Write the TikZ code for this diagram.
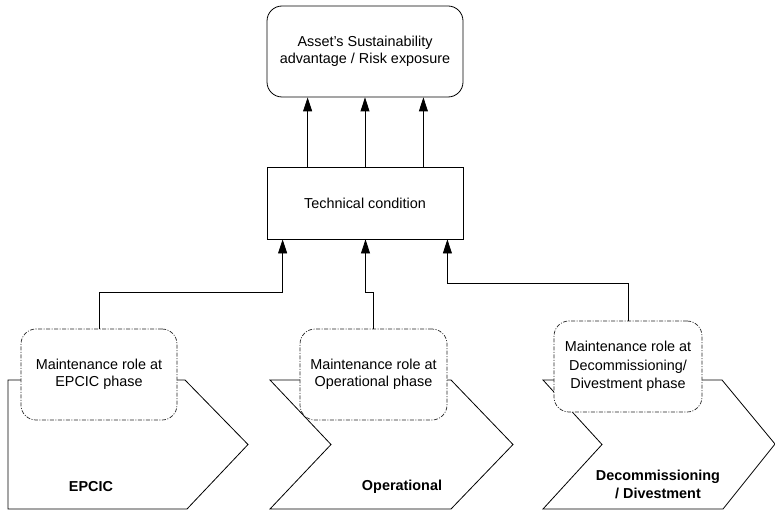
\documentclass[tikz,border=0pt]{standalone}
\usepackage{fontspec}
\setmainfont{Liberation Sans}
\usetikzlibrary{arrows.meta}
\begin{document}
\begin{tikzpicture}[x=1pt,y=-1pt,
  every node/.style={font=\fontsize{14.4}{16.6}\selectfont, align=center, inner sep=0pt},
  solidbox/.style={draw=black, line width=0.8pt, fill=white},
  dashbox/.style={draw=black!85, line width=0.7pt, fill=white, rounded corners=15pt,
     dash pattern=on 4pt off 1.5pt on 1pt off 1.5pt},
  chev/.style={draw=black, line width=0.8pt, fill=white, line join=miter},
  arr/.style={draw=black, line width=0.8pt, -{Triangle[length=14pt,width=9pt]}},
  lbl/.style={font=\fontsize{14.4}{18}\bfseries\selectfont}]
\useasboundingbox (0,0) rectangle (775,513);
% chevrons
\draw[chev] (8,380) -- (185,380) -- (248,444.5) -- (187,509) -- (8,509) -- cycle;
\draw[chev] (270,380) -- (451,380) -- (513,444.5) -- (451,509) -- (270,509) -- (331,444.5) -- cycle;
\draw[chev] (543,380) -- (722,380) -- (775,444) -- (723,509) -- (543,509) -- (602,444.5) -- cycle;
\node[lbl] (l1) at (91,487) {EPCIC};
\node[lbl] (l2) at (402,487) {Operational};
\node[lbl] (l3) at (658,484) {Decommissioning\\ / Divestment};
% boxes
\node[solidbox, rounded corners=15pt, minimum width=196pt, minimum height=91pt] (top) at (365,51.5)
  {Asset's Sustainability\\advantage / Risk exposure};
\node[solidbox, minimum width=196pt, minimum height=72pt] (tech) at (365,203) {Technical condition};
\node[dashbox, minimum width=156pt, minimum height=91pt] (e) at (99,374.5) {Maintenance role at\\EPCIC phase};
\node[dashbox, minimum width=147pt, minimum height=91pt] (o) at (373.5,374.5) {Maintenance role at\\Operational phase};
\node[dashbox, minimum width=148pt, minimum height=91pt, font=\fontsize{14.4}{18.5}\selectfont] (d) at (628,366.5) {Maintenance role at\\Decommissioning/\\Divestment phase};
% arrows tech -> top
\draw[arr] ([xshift=41pt]tech.north west) -- ([xshift=41pt]top.south west);
\draw[arr] (tech.north) -- (top.south);
\draw[arr] ([xshift=-40pt]tech.north east) -- ([xshift=-40pt]top.south east);
% phases -> tech
\draw[arr] (e.north) -- ++(0,-36) -| ([xshift=16pt]tech.south west);
\draw[arr] (o.north) -- ++(0,-36) -| ([xshift=0.5pt]tech.south);
\draw[arr] (d.north) -- ++(0,-37) -| ([xshift=-16pt]tech.south east);
\end{tikzpicture}
\end{document}
